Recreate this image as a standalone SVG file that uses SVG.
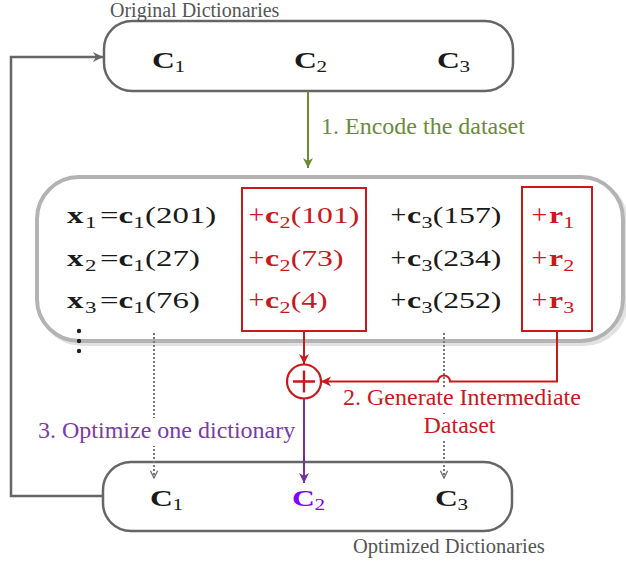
<svg xmlns="http://www.w3.org/2000/svg" width="626" height="566" viewBox="0 0 626 566">
<style>
  .box{fill:#fff;stroke:#666;stroke-width:2.5}
  .math{font-family:"Liberation Serif","DejaVu Serif",serif;font-size:23px;fill:#1a1a1a}
  .plus{font-family:"Liberation Serif","DejaVu Serif",serif;font-size:28px;fill:#1a1a1a}
  .b{font-weight:bold}
  .sub{font-size:16px;font-weight:normal}
  .red{fill:#c8191d}
  .lbl{font-family:"Liberation Serif","DejaVu Serif",serif;font-size:24px}
  .cap{font-family:"Liberation Serif","DejaVu Serif",serif;font-size:20px;fill:#555}
  .dot{fill:none;stroke:#777;stroke-width:2;stroke-dasharray:2 2}
</style>
<defs>
  <marker id="mGray" viewBox="0 0 10 10" refX="10" refY="5" markerWidth="10" markerHeight="12" markerUnits="userSpaceOnUse" orient="auto"><path d="M0,0 L10,5 L0,10 L3,5 Z" fill="#666"/></marker>
  <marker id="mGreen" viewBox="0 0 10 10" refX="10" refY="5" markerWidth="10" markerHeight="11" markerUnits="userSpaceOnUse" orient="auto"><path d="M0,0 L10,5 L0,10 L3,5 Z" fill="#6d8a3c"/></marker>
  <marker id="mRed" viewBox="0 0 10 10" refX="10" refY="5" markerWidth="10" markerHeight="11" markerUnits="userSpaceOnUse" orient="auto"><path d="M0,0 L10,5 L0,10 L3,5 Z" fill="#c8191d"/></marker>
  <marker id="mPurple" viewBox="0 0 10 10" refX="10" refY="5" markerWidth="10" markerHeight="11" markerUnits="userSpaceOnUse" orient="auto"><path d="M0,0 L10,5 L0,10 L3,5 Z" fill="#7030a0"/></marker>
  <marker id="mOpen" viewBox="0 0 10 10" refX="9" refY="5" markerWidth="9" markerHeight="9" markerUnits="userSpaceOnUse" orient="auto"><path d="M1,1 L9,5 L1,9" fill="none" stroke="#777" stroke-width="1.6"/></marker>
</defs>

<g id="original-dictionaries">
  <rect class="box" x="104" y="21" width="409" height="70" rx="28"/>
  <text class="cap" x="110" y="16.5">Original Dictionaries</text>
  <text class="math b" transform="translate(152,68) scale(1.32,1)" style="font-size:24px">C<tspan class="sub" x="17" y="4">1</tspan></text>
  <text class="math b" transform="translate(294,68) scale(1.32,1)" style="font-size:24px">C<tspan class="sub" x="17" y="4">2</tspan></text>
  <text class="math b" transform="translate(437,68) scale(1.32,1)" style="font-size:24px">C<tspan class="sub" x="17" y="4">3</tspan></text>
</g>

<g id="dataset">
  <rect x="40" y="180" width="586" height="164" rx="42" fill="none" stroke="#e2e2e2" stroke-width="4"/>
  <rect x="37" y="177" width="586" height="164" rx="42" fill="#fff" stroke="#b3b3b3" stroke-width="4"/>
  <g id="col1">
    <text class="math" transform="translate(67,223) scale(1.43,1)"><tspan class="b" x="0" y="0">x</tspan><tspan class="sub" x="12.6" y="5">1</tspan><tspan x="23" y="0">=</tspan><tspan class="b" x="36" y="0">c</tspan><tspan class="sub" x="46.4" y="5">1</tspan><tspan x="54.6" y="0">(201)</tspan></text>
    <text class="math" transform="translate(67,265.5) scale(1.43,1)"><tspan class="b" x="0" y="0">x</tspan><tspan class="sub" x="12.6" y="5">2</tspan><tspan x="23" y="0">=</tspan><tspan class="b" x="36" y="0">c</tspan><tspan class="sub" x="46.4" y="5">1</tspan><tspan x="54.6" y="0">(27)</tspan></text>
    <text class="math" transform="translate(67,308) scale(1.43,1)"><tspan class="b" x="0" y="0">x</tspan><tspan class="sub" x="12.6" y="5">3</tspan><tspan x="23" y="0">=</tspan><tspan class="b" x="36" y="0">c</tspan><tspan class="sub" x="46.4" y="5">1</tspan><tspan x="54.6" y="0">(76)</tspan></text>
    <circle cx="79" cy="331" r="2.2" fill="#222"/>
    <circle cx="79" cy="341" r="2.2" fill="#222"/>
    <circle cx="79" cy="351" r="2.2" fill="#222"/>
  </g>
  <g id="col2">
    <rect x="242" y="188" width="124" height="143" fill="none" stroke="#c8191d" stroke-width="2"/>
    <text class="plus red" x="248.5" y="224">+</text>
    <text class="plus red" x="248.5" y="266.5">+</text>
    <text class="plus red" x="248.5" y="309">+</text>
    <text class="math red" transform="translate(265,223) scale(1.38,1)"><tspan class="b" x="0" y="0">c</tspan><tspan class="sub" x="10.5" y="5">2</tspan><tspan x="18.6" y="0">(101)</tspan></text>
    <text class="math red" transform="translate(265,265.5) scale(1.38,1)"><tspan class="b" x="0" y="0">c</tspan><tspan class="sub" x="10.5" y="5">2</tspan><tspan x="18.6" y="0">(73)</tspan></text>
    <text class="math red" transform="translate(265,308) scale(1.38,1)"><tspan class="b" x="0" y="0">c</tspan><tspan class="sub" x="10.5" y="5">2</tspan><tspan x="18.6" y="0">(4)</tspan></text>
  </g>
  <g id="col3">
    <text class="plus" x="390.5" y="224">+</text>
    <text class="plus" x="390.5" y="266.5">+</text>
    <text class="plus" x="390.5" y="309">+</text>
    <text class="math" transform="translate(407,223) scale(1.38,1)"><tspan class="b" x="0" y="0">c</tspan><tspan class="sub" x="10.5" y="5">3</tspan><tspan x="18.6" y="0">(157)</tspan></text>
    <text class="math" transform="translate(407,265.5) scale(1.38,1)"><tspan class="b" x="0" y="0">c</tspan><tspan class="sub" x="10.5" y="5">3</tspan><tspan x="18.6" y="0">(234)</tspan></text>
    <text class="math" transform="translate(407,308) scale(1.38,1)"><tspan class="b" x="0" y="0">c</tspan><tspan class="sub" x="10.5" y="5">3</tspan><tspan x="18.6" y="0">(252)</tspan></text>
  </g>
  <g id="col4">
    <rect x="522" y="187" width="70" height="144" fill="none" stroke="#c8191d" stroke-width="2"/>
    <text class="plus red" x="531.5" y="224">+</text>
    <text class="plus red" x="531.5" y="266.5">+</text>
    <text class="plus red" x="531.5" y="309">+</text>
    <text class="math red" transform="translate(549,223) scale(1.38,1)"><tspan class="b" x="0" y="0">r</tspan><tspan class="sub" x="10.3" y="5">1</tspan></text>
    <text class="math red" transform="translate(549,265.5) scale(1.38,1)"><tspan class="b" x="0" y="0">r</tspan><tspan class="sub" x="10.3" y="5">2</tspan></text>
    <text class="math red" transform="translate(549,308) scale(1.38,1)"><tspan class="b" x="0" y="0">r</tspan><tspan class="sub" x="10.3" y="5">3</tspan></text>
  </g>
</g>

<g id="optimized-dictionaries">
  <rect class="box" x="103" y="462" width="409" height="69" rx="28"/>
  <text class="cap" x="353" y="553" style="font-size:20.5px">Optimized Dictionaries</text>
  <text class="math b" transform="translate(150,506) scale(1.32,1)" style="font-size:24px">C<tspan class="sub" x="17" y="4">1</tspan></text>
  <text class="math b" transform="translate(292,506) scale(1.32,1)" style="font-size:24px;fill:#7f00ff">C<tspan class="sub" x="17" y="4">2</tspan></text>
  <text class="math b" transform="translate(435,506) scale(1.32,1)" style="font-size:24px">C<tspan class="sub" x="17" y="4">3</tspan></text>
</g>

<g id="plus-node">
  <circle cx="304" cy="381.5" r="17" fill="#fff" stroke="#c8191d" stroke-width="2.2"/>
  <path d="M293,381.5 H315 M304,370.5 V392.5" stroke="#c8191d" stroke-width="2.4"/>
</g>

<g id="connectors">
  <path d="M103,496 L11,496 L11,57 L103,57" fill="none" stroke="#666" stroke-width="2.5" marker-end="url(#mGray)"/>
  <path d="M308,91 L308,168" fill="none" stroke="#6d8a3c" stroke-width="2" marker-end="url(#mGreen)"/>
  <path d="M154,333 L154,478" class="dot" marker-end="url(#mOpen)"/>
  <path d="M444,333 L444,478" class="dot" marker-end="url(#mOpen)"/>
  <path d="M304,331 L304,364" fill="none" stroke="#c8191d" stroke-width="2" marker-end="url(#mRed)"/>
  <path d="M557,331 L557,381.5 L450,381.5 A6,6 0 0 0 438,381.5 L321,381.5" fill="none" stroke="#c8191d" stroke-width="2" marker-end="url(#mRed)"/>
  <path d="M304,399 L304,483" fill="none" stroke="#7030a0" stroke-width="2" marker-end="url(#mPurple)"/>
</g>

<g id="labels">
  <text class="lbl" x="321" y="134" fill="#6d8a3c">1. Encode the dataset</text>
  <rect x="340" y="388" width="240" height="23" fill="#fff"/>
  <rect x="420" y="414" width="80" height="25" fill="#fff"/>
  <text class="lbl" x="343" y="405" fill="#c8191d">2. Generate Intermediate</text>
  <text class="lbl" x="459.5" y="433" fill="#c8191d" text-anchor="middle">Dataset</text>
  <rect x="36" y="418" width="260" height="28" fill="#fff"/>
  <text class="lbl" x="38" y="438" fill="#7a3aa8">3. Optimize one dictionary</text>
</g>
</svg>
